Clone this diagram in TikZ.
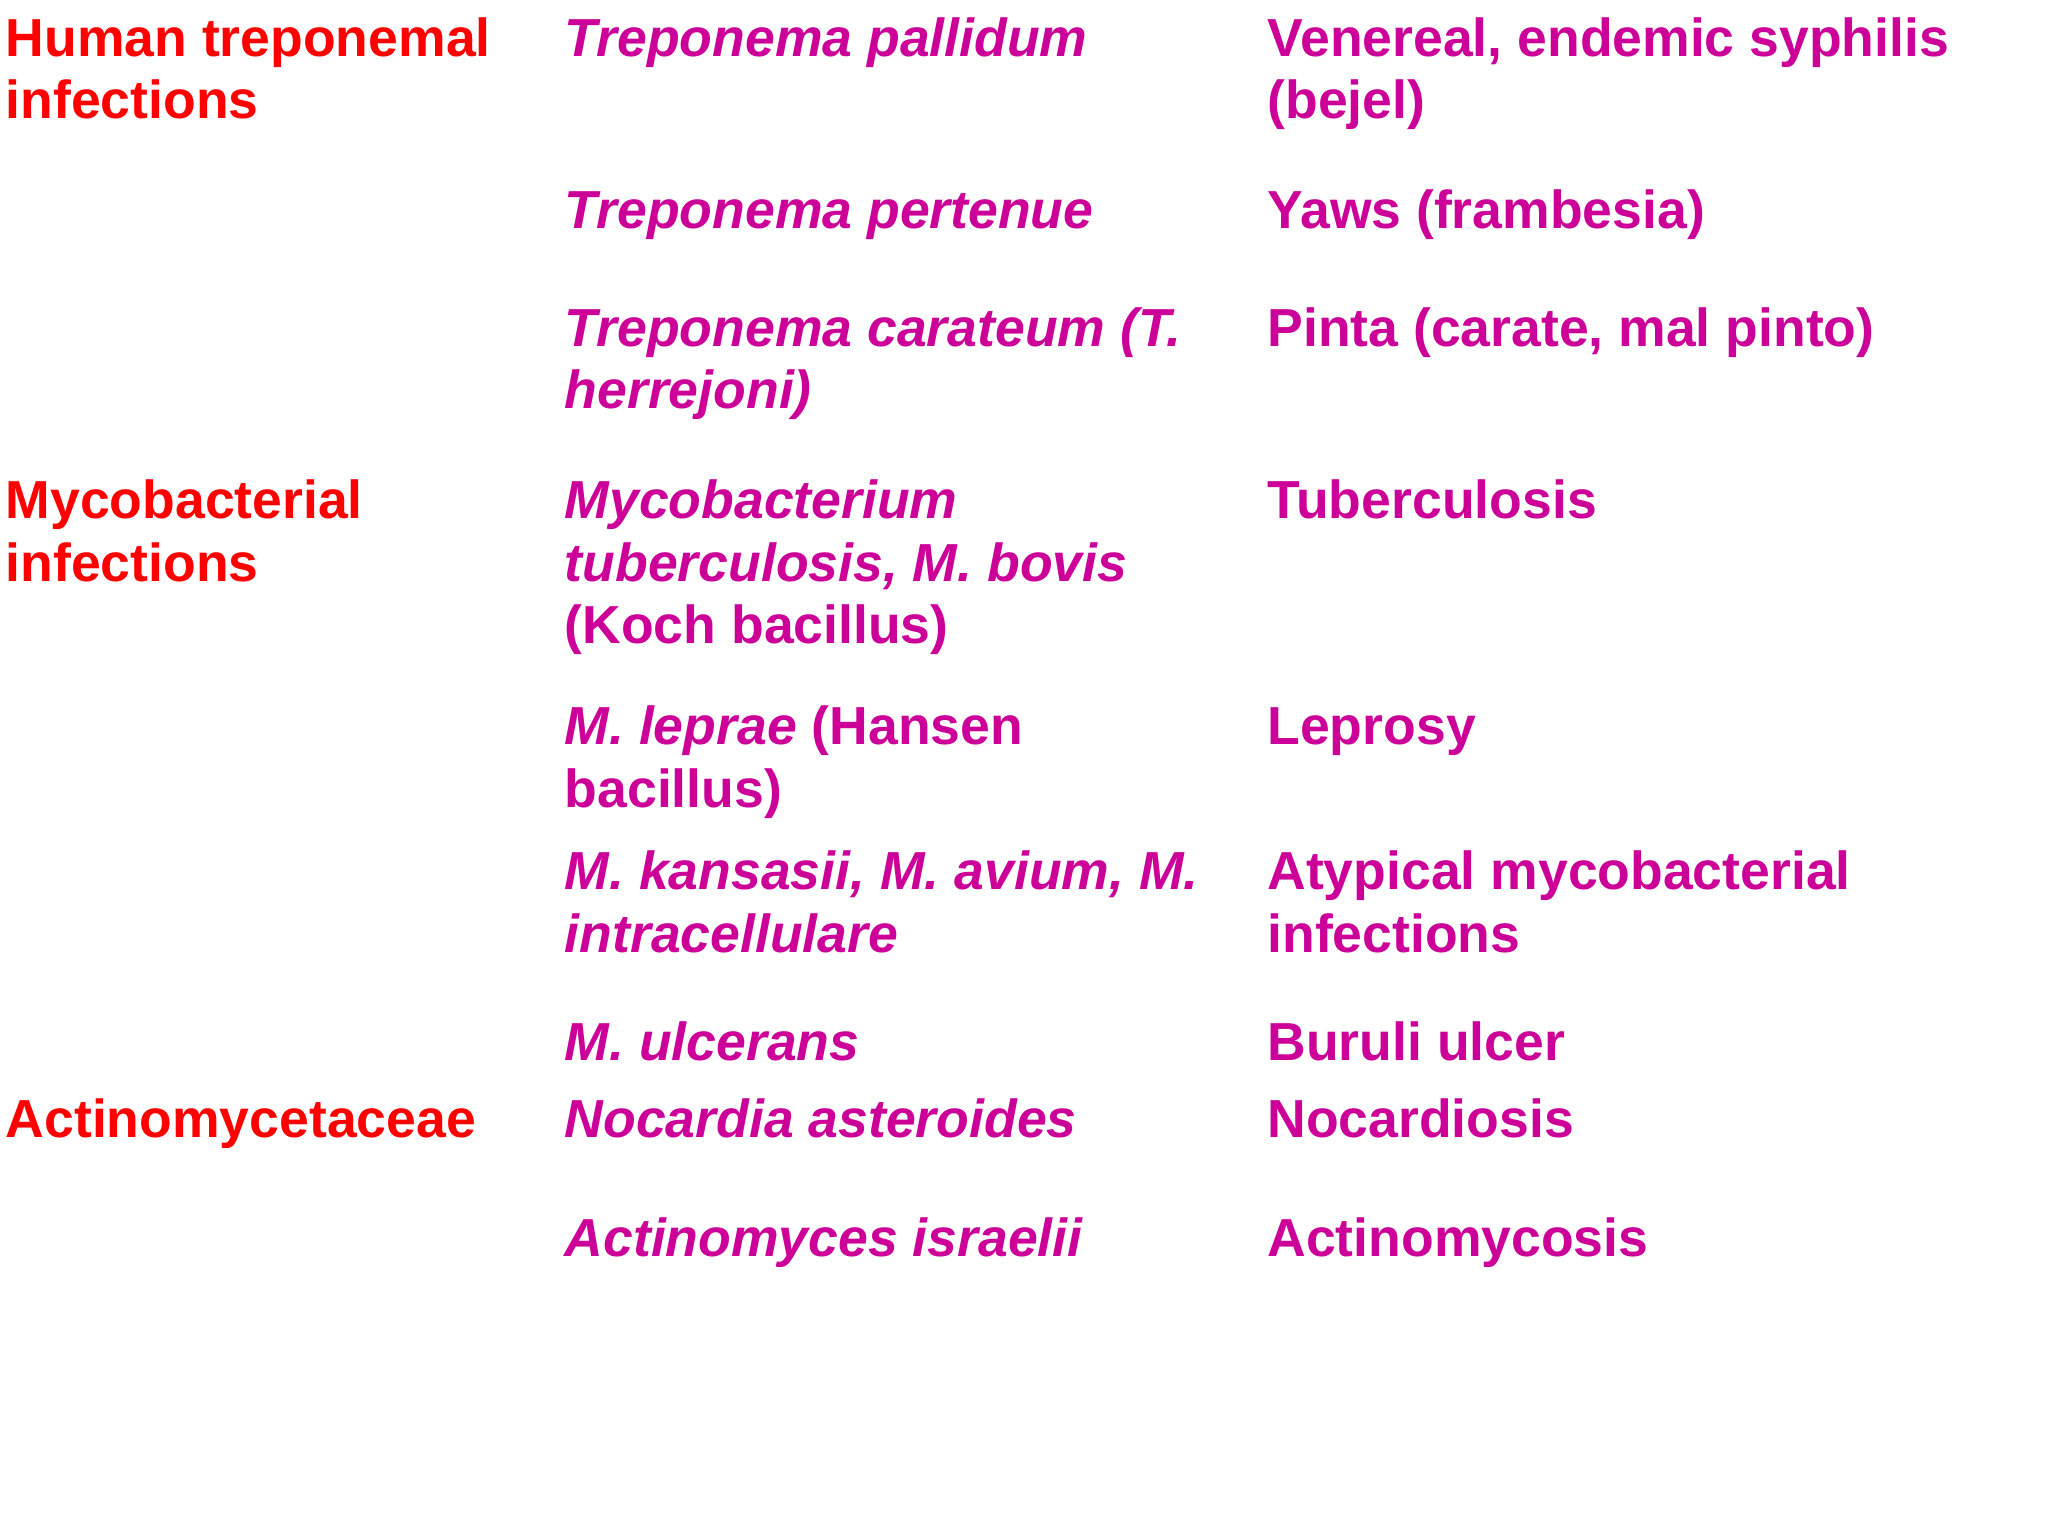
\documentclass[tikz,border=0pt]{standalone}
\usepackage{fontspec}
\setmainfont{Liberation Sans}
\definecolor{hd}{RGB}{255,0,0}
\definecolor{mg}{RGB}{204,0,153}
\begin{document}
\begin{tikzpicture}[x=0.5pt,y=-0.5pt,
 t/.style={anchor=base west,inner sep=0pt,font=\fontsize{20.5}{24}\selectfont\bfseries},
 h/.style={t,text=hd}, s/.style={t,text=mg,font=\fontsize{20.5}{24}\selectfont\bfseries\itshape}, d/.style={t,text=mg}]
\useasboundingbox[fill=white] (0,0) rectangle (1568,1176);
\node[h] (h1a) at (4,43) {Human treponemal};
\node[h] (h1b) at (4,91) {infections};
\node[h] (h2a) at (4,397) {Mycobacterial};
\node[h] (h2b) at (4,445) {infections};
\node[h] (h3) at (4,871) {Actinomycetaceae};
\node[s] (s1) at (432,43) {Treponema pallidum};
\node[s] (s2) at (432,175) {Treponema pertenue};
\node[s] (s3a) at (432,265) {Treponema carateum (T.};
\node[s] (s3b) at (432,313) {herrejoni)};
\node[s] (s4a) at (432,397) {Mycobacterium};
\node[s] (s4b) at (432,445) {tuberculosis, M. bovis};
\node[d] (s4c) at (432,493) {(Koch bacillus)};
\node[d] (s5a) at (432,570) {\textit{M. leprae} (Hansen};
\node[d] (s5b) at (432,618) {bacillus)};
\node[s] (s6a) at (432,681) {M. kansasii, M. avium, M.};
\node[s] (s6b) at (432,729) {intracellulare};
\node[s] (s7) at (432,812) {M. ulcerans};
\node[s] (s8) at (432,871) {Nocardia asteroides};
\node[s] (s9) at (432,962) {Actinomyces israelii};
\node[d] (d1a) at (970,43) {Venereal, endemic syphilis};
\node[d] (d1b) at (970,91) {(bejel)};
\node[d] (d2) at (970,175) {Yaws (frambesia)};
\node[d] (d3) at (970,265) {Pinta (carate, mal pinto)};
\node[d] (d4) at (970,397) {Tuberculosis};
\node[d] (d5) at (970,570) {Leprosy};
\node[d] (d6a) at (970,681) {Atypical mycobacterial};
\node[d] (d6b) at (970,729) {infections};
\node[d] (d7) at (970,812) {Buruli ulcer};
\node[d] (d8) at (970,871) {Nocardiosis};
\node[d] (d9) at (970,962) {Actinomycosis};
\end{tikzpicture}
\end{document}
